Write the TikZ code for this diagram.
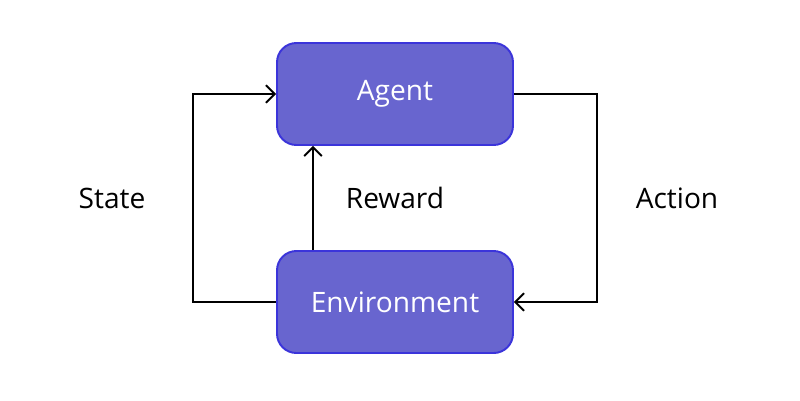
\documentclass[tikz,border=0pt]{standalone}
\usepackage{fontspec}
\setmainfont{Open Sans}
\usetikzlibrary{arrows.meta}
\definecolor{boxfill}{HTML}{6865CF}
\definecolor{boxedge}{HTML}{3B34DA}
\begin{document}
\begin{tikzpicture}[x=0.02cm,y=-0.02cm,
  block/.style={draw=boxedge, fill=boxfill, line width=1.1pt, rounded corners=11pt,
    minimum width=236*0.02cm, minimum height=102*0.02cm, text=white,
    font=\fontsize{16}{19}\selectfont},
  label/.style={font=\fontsize{16}{19}\selectfont, text=black},
  link/.style={draw=black, line width=1.1pt, -{Straight Barb[length=5pt,width=10pt,line width=1.1pt]}}]
  \useasboundingbox (0,0) rectangle (800,400);
  \node[block] (agent) at (395,94) {Agent};
  \node[block] (env) at (395,302) {Environment};
  \coordinate (ltop) at (193,94);
  \coordinate (lbot) at (193,302);
  \coordinate (rtop) at (597,94);
  \coordinate (rbot) at (597,302);
  \draw[link] (env.west) -- (lbot) -- (ltop) -- (agent.west);
  \draw[link] (agent.east) -- (rtop) -- (rbot) -- (env.east);
  \draw[link] (env.north -| 313,0) -- (agent.south -| 313,0);
  \node[label] (state) at (112,198) {State};
  \node[label] (reward) at (395,198) {Reward};
  \node[label] (action) at (677,198) {Action};
\end{tikzpicture}
\end{document}
